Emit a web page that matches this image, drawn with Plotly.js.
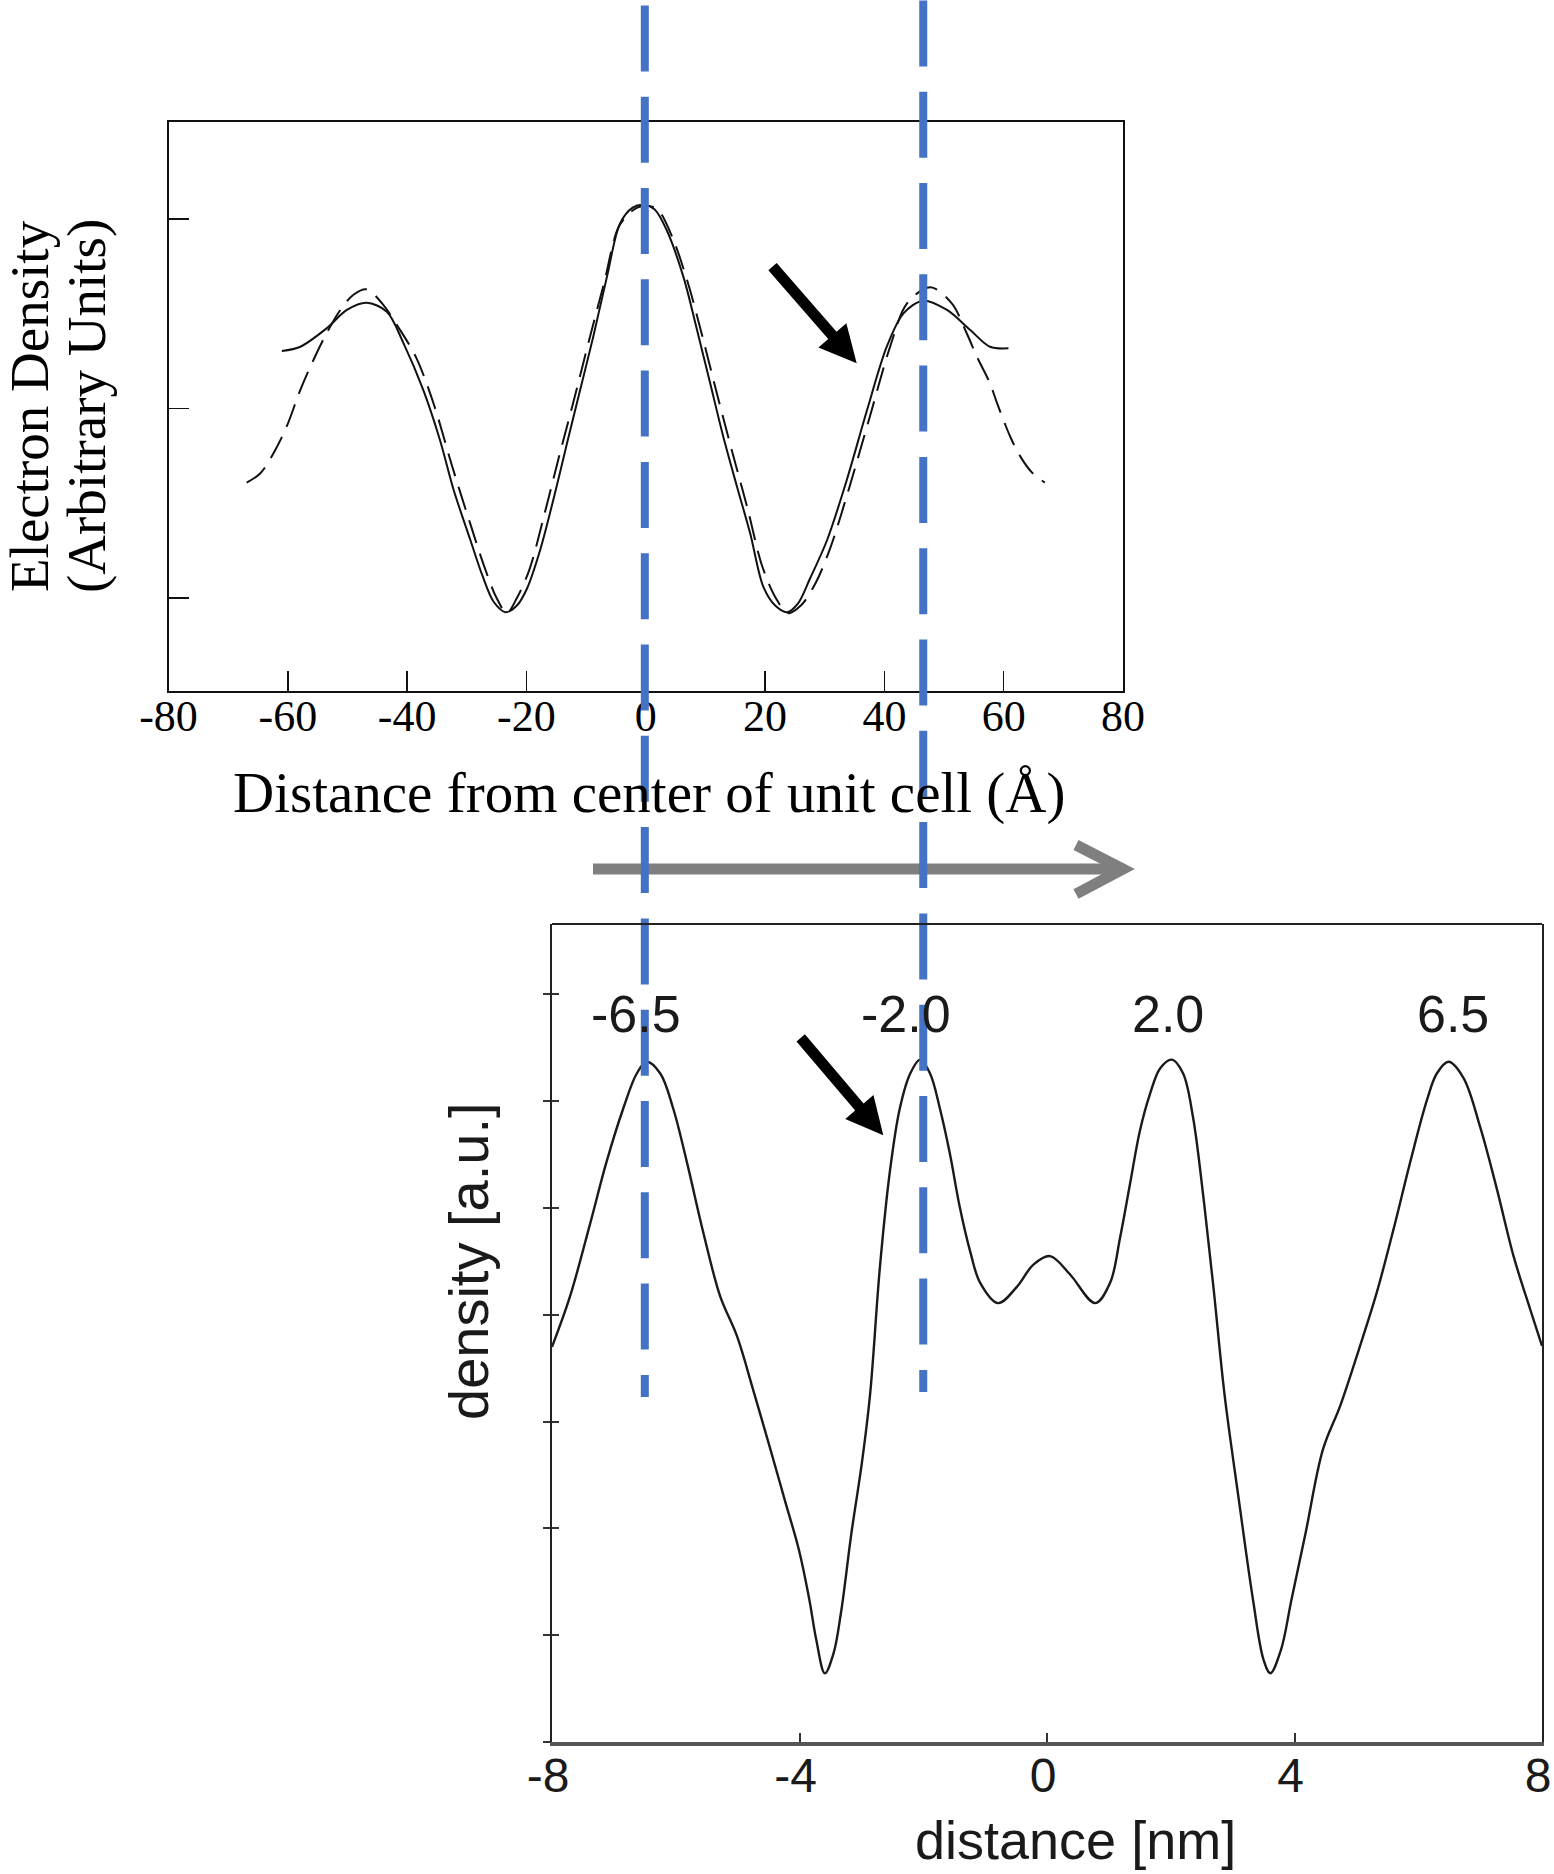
<!DOCTYPE html>
<html>
<head>
<meta charset="utf-8">
<script src="https://cdn.plot.ly/plotly-3.0.1.min.js"></script>
<style>html,body{margin:0;padding:0;background:#fff;}#chart{width:1554px;height:1874px;}</style>
</head>
<body>
<div id="chart"></div>
<script>
// ---------- data ----------
// Top panel: electron density vs distance from centre of unit cell (Å)
const topSolidX = [-61.0,-57.9,-53.5,-50.1,-46.8,-43.4,-40.6,-37.3,-34.5,-32.2,-29.4,-27.4,-25.5,-23.5,-21.6,-19.9,-17.7,-15.5,-13.2,-11.0,-8.8,-6.5,-4.3,-2.2,-0.4,1.5,3.5,6.3,8.6,10.8,13.0,15.3,17.5,19.7,21.7,23.7,25.5,27.5,30.4,33.7,37.1,40.4,43.2,46.5,50.5,54.4,57.7,60.8];
const topSolidY = [1.303,1.326,1.423,1.520,1.558,1.511,1.344,1.098,0.834,0.570,0.306,0.120,-0.020,-0.075,-0.040,0.050,0.253,0.517,0.816,1.098,1.379,1.696,1.977,2.060,2.075,2.050,1.942,1.696,1.414,1.133,0.851,0.587,0.341,0.060,-0.040,-0.075,-0.030,0.100,0.306,0.623,0.992,1.326,1.502,1.569,1.520,1.414,1.326,1.318];
const topDashX = [-66.9,-64.6,-62.4,-60.2,-57.9,-55.7,-53.5,-51.2,-49.0,-46.8,-44.2,-41.5,-38.5,-35.5,-32.5,-29.5,-27.0,-25.0,-23.3,-21.6,-19.5,-17.0,-14.5,-12.0,-9.5,-7.0,-4.5,-2.0,0.0,2.0,4.5,7.0,9.5,12.0,14.5,17.0,19.5,21.8,23.8,26.0,28.5,31.0,34.0,37.5,41.0,43.8,47.7,51.3,53.8,55.5,57.7,58.9,61.1,62.8,64.8,66.9];
const topDashY = [0.609,0.658,0.764,0.904,1.098,1.256,1.397,1.520,1.600,1.629,1.555,1.430,1.270,1.020,0.700,0.400,0.160,0.000,-0.080,0.000,0.150,0.440,0.750,1.050,1.360,1.660,1.960,2.050,2.070,2.050,1.900,1.670,1.380,1.070,0.770,0.480,0.170,0.000,-0.080,-0.040,0.080,0.270,0.570,0.950,1.330,1.555,1.640,1.555,1.397,1.274,1.133,1.027,0.851,0.746,0.660,0.609];
const topXTicks = [-80,-60,-40,-20,0,20,40,60,80];
const topYTicks = [0,1,2];

// Bottom panel: density vs distance (nm)
const botX = [-8.0,-7.71,-7.39,-7.12,-6.85,-6.63,-6.47,-6.25,-6.04,-5.82,-5.55,-5.28,-5.01,-4.75,-4.47,-4.24,-4.01,-3.84,-3.73,-3.59,-3.45,-3.33,-3.16,-2.99,-2.86,-2.70,-2.54,-2.38,-2.21,-2.05,-1.89,-1.73,-1.57,-1.41,-1.24,-1.08,-0.79,-0.49,-0.22,0.05,0.37,0.78,1.02,1.18,1.34,1.50,1.66,1.83,2.02,2.20,2.36,2.53,2.69,2.87,3.10,3.33,3.50,3.61,3.78,3.95,4.18,4.46,4.74,5.06,5.33,5.60,5.87,6.14,6.30,6.49,6.73,7.00,7.27,7.54,7.81,8.0];
const botY = [3.70,4.17,4.84,5.43,5.93,6.26,6.37,6.26,5.93,5.43,4.76,4.17,3.80,3.30,2.74,2.27,1.80,1.33,0.96,0.644,0.83,1.21,1.96,2.62,3.25,4.45,5.34,5.93,6.26,6.39,6.26,5.93,5.51,5.01,4.59,4.30,4.11,4.26,4.47,4.55,4.38,4.11,4.30,4.72,5.22,5.72,6.06,6.31,6.39,6.26,5.85,5.09,4.26,3.25,2.27,1.33,0.77,0.644,0.86,1.33,1.96,2.74,3.15,3.71,4.21,4.80,5.43,6.01,6.26,6.37,6.22,5.76,5.18,4.55,4.05,3.71];
const botXTicks = [-8,-4,0,4,8];
const botYTicks = [0,1,2,3,4,5,6,7];
const peakLabels = ["-6.5","-2.0","2.0","6.5"];
const guideX = [-6.5,-2.0];   // blue guide lines, in bottom-panel nm

// ---------- page geometry helpers ----------
const W = 1554, H = 1874;
const px = x => x / W;
const py = y => 1 - y / H;

function arrowPath(x0,y0,x1,y1,sw,hw,hl){
  const dx=x1-x0, dy=y1-y0, L=Math.hypot(dx,dy);
  const ux=dx/L, uy=dy/L, nx=-uy, ny=ux;
  const bx=x1-ux*hl, by=y1-uy*hl;
  const pts=[[x0+nx*sw/2,y0+ny*sw/2],[bx+nx*sw/2,by+ny*sw/2],[bx+nx*hw/2,by+ny*hw/2],[x1,y1],
             [bx-nx*hw/2,by-ny*hw/2],[bx-nx*sw/2,by-ny*sw/2],[x0-nx*sw/2,y0-ny*sw/2]];
  return 'M '+pts.map(p=>px(p[0]).toFixed(5)+','+py(p[1]).toFixed(5)).join(' L ')+' Z';
}

const serif = 'Liberation Serif, Times New Roman, serif';
const sans = 'Liberation Sans, Arial, sans-serif';

const traces = [
  {x: topSolidX, y: topSolidY, xaxis:'x', yaxis:'y', mode:'lines',
   line:{color:'#111', width:2, shape:'spline', smoothing:0.9}, hoverinfo:'skip'},
  {x: topDashX, y: topDashY, xaxis:'x', yaxis:'y', mode:'lines',
   line:{color:'#111', width:2, dash:'24px,11px', shape:'spline', smoothing:0.9}, hoverinfo:'skip'},
  {x: botX, y: botY, xaxis:'x2', yaxis:'y2', mode:'lines',
   line:{color:'#1a1a1a', width:2.4, shape:'spline', smoothing:1.0}, hoverinfo:'skip'},
  {x: [], y: [], xaxis:'x2', yaxis:'y3', mode:'lines', hoverinfo:'skip'}
];

const peakPx = [636, 906, 1167.5, 1452.5];
const annotations = [
  {text:'Electron Density', x:px(30), y:py(406), xref:'paper', yref:'paper', showarrow:false,
   textangle:-90, xanchor:'center', yanchor:'middle', font:{family:serif, size:55, color:'#000'}},
  {text:'(Arbitrary Units)', x:px(87), y:py(406), xref:'paper', yref:'paper', showarrow:false,
   textangle:-90, xanchor:'center', yanchor:'middle', font:{family:serif, size:55, color:'#000'}},
  {text:'Distance from center of unit cell (Å)', x:px(649), y:py(793), xref:'paper', yref:'paper',
   showarrow:false, xanchor:'center', yanchor:'middle', font:{family:serif, size:57, color:'#000'}},
  {text:'density [a.u.]', x:px(468), y:py(1261), xref:'paper', yref:'paper', showarrow:false,
   textangle:-90, xanchor:'center', yanchor:'middle', font:{family:sans, size:56, color:'#1a1a1a'}},
  {text:'distance [nm]', x:px(1075), y:py(1840), xref:'paper', yref:'paper', showarrow:false,
   xanchor:'center', yanchor:'middle', font:{family:sans, size:54, color:'#1a1a1a'}}
];
peakLabels.forEach((t,i)=>annotations.push({text:t, x:px(peakPx[i]), y:py(1014), xref:'paper', yref:'paper',
  showarrow:false, xanchor:'center', yanchor:'middle', font:{family:sans, size:52, color:'#1a1a1a'}}));

const blue = '#4472C4';
const shapes = [
  // gray arrow between the panels
  {type:'line', xref:'paper', yref:'paper', x0:px(593), x1:px(1118), y0:py(869), y1:py(869),
   line:{color:'#7f7f7f', width:11}},
  {type:'path', xref:'paper', yref:'paper',
   path:'M '+px(1076)+','+py(845)+' L '+px(1123)+','+py(869)+' L '+px(1076)+','+py(894),
   line:{color:'#7f7f7f', width:11}},
  // black arrows
  {type:'path', xref:'paper', yref:'paper', path:arrowPath(772.5,266.7,856.7,363.3,11,37,37),
   fillcolor:'#000', line:{width:0}},
  {type:'path', xref:'paper', yref:'paper', path:arrowPath(800.7,1037.9,883.3,1135.2,11,37,37),
   fillcolor:'#000', line:{width:0}},
  // blue dashed guide lines
  {type:'line', xref:'x2', yref:'paper', x0:guideX[0], x1:guideX[0], y0:py(5.4), y1:py(1397),
   line:{color:blue, width:8, dash:'66px,25.3px'}},
  {type:'line', xref:'x2', yref:'paper', x0:guideX[1], x1:guideX[1], y0:py(0.4), y1:py(1392),
   line:{color:blue, width:8, dash:'66px,25.3px'}},
  // top border of the bottom panel
  {type:'line', xref:'paper', yref:'paper', x0:px(552), x1:px(1542), y0:py(924), y1:py(924),
   line:{color:'#222', width:2}}
];

const layout = {
  width: W, height: H,
  margin:{l:0, r:0, t:0, b:0, pad:0},
  paper_bgcolor:'#fff', plot_bgcolor:'rgba(0,0,0,0)',
  showlegend:false,
  xaxis:{domain:[px(168.5), px(1123)], range:[-80,80], tickvals:topXTicks, ticktext:topXTicks.map(String),
    ticks:'inside', ticklen:20, tickwidth:1.6, tickcolor:'#111', showline:true, linecolor:'#111', linewidth:2,
    mirror:true, showgrid:false, zeroline:false, anchor:'y', ticklabeloverflow:'allow',
    tickfont:{family:serif, size:44, color:'#000'}, ticklabelstandoff:-15, fixedrange:true},
  yaxis:{domain:[py(691), py(122)], range:[-0.491, 2.512], tickvals:topYTicks, showticklabels:false,
    ticks:'inside', ticklen:20, tickwidth:1.6, tickcolor:'#111', showline:true, linecolor:'#111', linewidth:2,
    mirror:true, showgrid:false, zeroline:false, anchor:'x', fixedrange:true},
  xaxis2:{domain:[px(552), px(1542)], range:[-8,8], tickvals:botXTicks, ticktext:botXTicks.map(String),
    ticks:'inside', ticklen:9, tickwidth:2, tickcolor:'#333', showline:true, linecolor:'#555', linewidth:3.5,
    mirror:false, showgrid:false, zeroline:false, anchor:'y2', ticklabeloverflow:'allow',
    tickfont:{family:sans, size:48, color:'#1a1a1a'}, ticklabelstandoff:-11, ticklabelshift:-4, fixedrange:true},
  yaxis2:{domain:[py(1742), py(924)], range:[0, 7.66], tickvals:botYTicks, showticklabels:false,
    ticks:'outside', ticklen:7, tickwidth:2, tickcolor:'#333', showline:true, linecolor:'#222', linewidth:2,
    mirror:true, showgrid:false, zeroline:false, anchor:'x2', fixedrange:true},
  yaxis3:{domain:[py(1742), py(924)], range:[0, 7.66], overlaying:'y2', anchor:'x2', tickvals:botYTicks,
    showticklabels:false, ticks:'inside', ticklen:7, tickwidth:2, tickcolor:'#333', showline:false,
    showgrid:false, zeroline:false, fixedrange:true},
  annotations: annotations,
  shapes: shapes
};

Plotly.newPlot('chart', traces, layout, {displayModeBar:false, staticPlot:true});
</script>
</body>
</html>
